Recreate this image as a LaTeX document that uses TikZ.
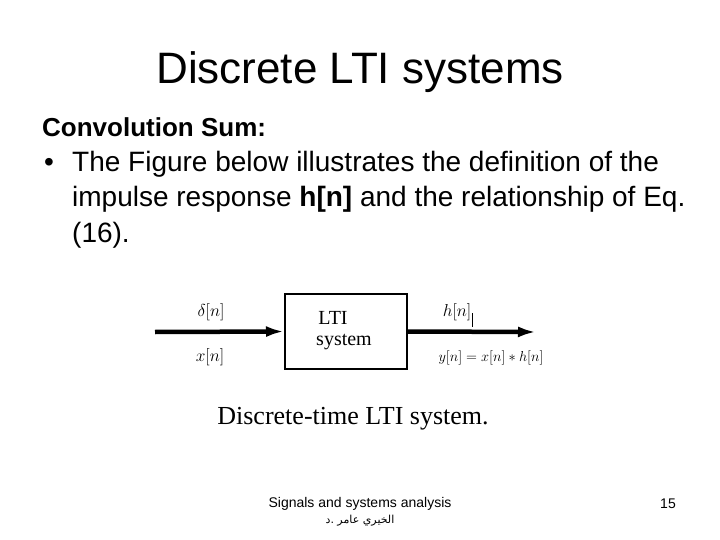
\documentclass[tikz,border=0pt]{standalone}
\usepackage{fontspec}
\setmainfont{Liberation Sans}
\newfontfamily\figfont{Liberation Serif}
\newfontfamily\arabicfont[Script=Arabic]{DejaVu Sans}
\TeXXeTstate=1
\usetikzlibrary{arrows.meta}

\begin{document}
\begin{tikzpicture}[x=1pt, y=-1pt,
  slidetext/.style={anchor=base west, inner sep=0pt, font=\fontsize{28}{33}\selectfont},
  figlabel/.style={inner sep=0pt, font=\figfont\fontsize{18}{21}\selectfont},
  signal/.style={line width=4.5pt, -{Latex[length=18pt, width=11pt]}},
  footer/.style={inner sep=0pt, font=\fontsize{14}{17}\selectfont}]

%% ------------------------------------------------------------------
%% slide frame: 720 x 540, y runs downwards
%% ------------------------------------------------------------------
\fill[white] (0,0) rectangle (720,540);
\useasboundingbox (0,0) rectangle (720,540);

% title
\node[anchor=base, inner sep=0pt, font=\fontsize{44}{52}\selectfont] (title)
  at (360,84) {Discrete LTI systems};

% body text
\node[slidetext, font=\bfseries\fontsize{26}{31}\selectfont] (head) at (42,137)
  {Convolution Sum:};
\node[slidetext] (bullet) at (44,172) {•};
\node[slidetext] (line1) at (72,172) {The Figure below illustrates the definition of the};
\node[slidetext] (line2) at (72,207) {impulse response \textbf{h[n]} and the relationship of Eq.};
\node[slidetext] (line3) at (72,242) {(16).};

%% ------------------------------------------------------------------
%% block diagram
%% ------------------------------------------------------------------
\node[draw, line width=2pt, minimum width=122pt, minimum height=75pt] (lti)
  at (346,331.5) {};
\node[figlabel, font=\figfont\fontsize{20}{24}\selectfont] (ltiname) at (333,318) {LTI};
\node[figlabel, font=\figfont\fontsize{20}{24}\selectfont] (ltisys) at (344,342) {system};

\coordinate (in) at (155,332);
\coordinate (out) at (536,332);
\draw[signal] (in) -- (lti.west);
\draw[signal] (lti.east) -- (out);

% input / output labels
\node[figlabel] (delta) at (211,312) {$\delta[n]$};
\node[figlabel] (xin) at (210,357) {$x[n]$};
\node[figlabel] (hout) at (457,312) {$h[n]$};
\node[figlabel, font=\fontsize{15}{18}\selectfont] (yout) at (491,358) {$y[n] = x[n] * h[n]$};
\draw[line width=0.8pt] (472,313) -- (472,327);

% caption
\node[inner sep=0pt, font=\figfont\fontsize{26}{31}\selectfont] (caption)
  at (353,419) {Discrete-time LTI system.};

%% ------------------------------------------------------------------
%% footer
%% ------------------------------------------------------------------
\node[footer] (course) at (360,504) {Signals and systems analysis};
\node[footer, font=\arabicfont\fontsize{11}{13}\selectfont] (author) at (360,521)
  {\beginR\mbox{الخيري} \mbox{عامر} \mbox{.}\mbox{د}\endR};
\node[footer] (page) at (668,504) {15};

\end{tikzpicture}
\end{document}
